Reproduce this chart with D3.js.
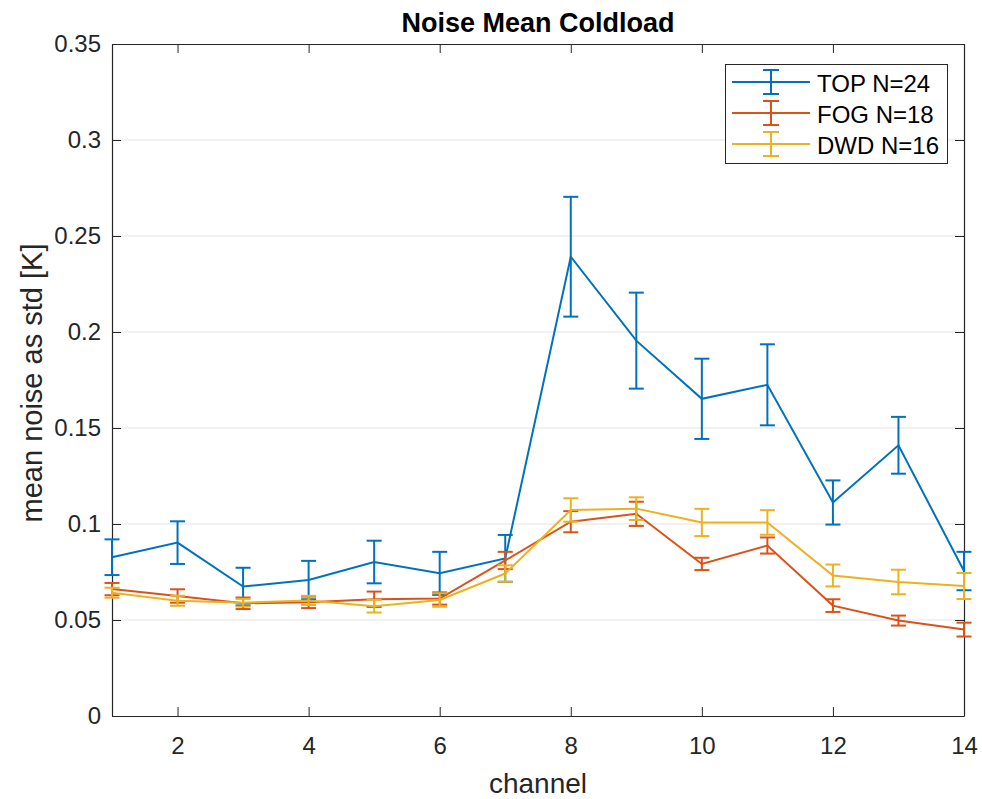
<!DOCTYPE html>
<html><head><meta charset="utf-8">
<script src="https://cdn.jsdelivr.net/npm/d3@7"></script>
<style>body{margin:0;background:#fff}svg{display:block}text{font-family:"Liberation Sans",Arial,sans-serif}</style>
</head><body><svg id="c" width="982" height="799"></svg>
<script>
const channels = [1,2,3,4,5,6,7,8,9,10,11,12,13,14];
const topMean = [0.0827,0.0903,0.0674,0.0708,0.0802,0.0743,0.0821,0.2392,0.1955,0.1652,0.1725,0.1112,0.1410,0.0755];
const topErr  = [0.0093,0.0111,0.0098,0.0100,0.0111,0.0112,0.0122,0.0312,0.0250,0.0209,0.0211,0.0115,0.0148,0.0100];
const fogMean = [0.0661,0.0625,0.0587,0.0592,0.0608,0.0612,0.0810,0.1012,0.1053,0.0792,0.0888,0.0575,0.0497,0.0450];
const fogErr  = [0.0032,0.0035,0.0030,0.0030,0.0040,0.0032,0.0045,0.0055,0.0063,0.0032,0.0042,0.0033,0.0026,0.0036];
const dwdMean = [0.0642,0.0600,0.0590,0.0602,0.0572,0.0604,0.0742,0.1073,0.1080,0.1008,0.1008,0.0732,0.0698,0.0677];
const dwdErr  = [0.0026,0.0026,0.0020,0.0024,0.0033,0.0035,0.0043,0.0061,0.0059,0.0071,0.0064,0.0057,0.0064,0.0068];
const seriesNames = ["TOP N=24","FOG N=18","DWD N=16"];
const xTicks = [2,4,6,8,10,12,14];
const yTicks = [0,0.05,0.1,0.15,0.2,0.25,0.3,0.35];
const colors = ["#0072BD","#D95319","#EDB120"];

const series = [
  {name:seriesNames[0], mean:topMean, err:topErr, color:colors[0]},
  {name:seriesNames[1], mean:fogMean, err:fogErr, color:colors[1]},
  {name:seriesNames[2], mean:dwdMean, err:dwdErr, color:colors[2]}
];

const L=112,R=964,T=44,B=716;
const svg=d3.select("#c");
const x=d3.scaleLinear().domain([1,14]).range([L,R]);
const y=d3.scaleLinear().domain([0,0.35]).range([B,T]);

// grid
svg.append("g").selectAll("line").data(yTicks.slice(1,-1)).join("line")
  .attr("x1",L).attr("x2",R).attr("y1",d=>y(d)).attr("y2",d=>y(d))
  .attr("stroke","#e3e3e3").attr("stroke-width",1);

const tickLen=9;
const axCol="#262626";
const xb=svg.append("g").attr("transform",`translate(0,${B})`)
  .call(d3.axisBottom(x).tickValues(xTicks).tickSizeInner(-tickLen).tickSizeOuter(0).tickPadding(21).tickFormat(d3.format("d")));
const xt=svg.append("g").attr("transform",`translate(0,${T})`)
  .call(d3.axisTop(x).tickValues(xTicks).tickSizeInner(-tickLen).tickSizeOuter(0).tickFormat(""));
const yl=svg.append("g").attr("transform",`translate(${L},0)`)
  .call(d3.axisLeft(y).tickValues(yTicks).tickSizeInner(-tickLen).tickSizeOuter(0).tickPadding(11).tickFormat(d=>d===0?"0":String(+d.toFixed(2))));
const yr=svg.append("g").attr("transform",`translate(${R},0)`)
  .call(d3.axisRight(y).tickValues(yTicks).tickSizeInner(-tickLen).tickSizeOuter(0).tickFormat(""));
[xb,xt,yl,yr].forEach(g=>{
  g.select(".domain").attr("stroke",axCol).attr("stroke-width",1.2);
  g.selectAll(".tick line").attr("stroke",axCol).attr("stroke-width",1);
  g.selectAll(".tick text").attr("fill",axCol).style("font-size","24px");
});

// series
const line=d3.line().x((d,i)=>x(channels[i])).y(d=>y(d));
const cap=7.5;
series.forEach(s=>{
  const g=svg.append("g");
  g.append("path").attr("d",line(s.mean)).attr("fill","none").attr("stroke",s.color).attr("stroke-width",2);
  const eb=g.selectAll("g.eb").data(channels).join("g");
  eb.append("line").attr("x1",d=>x(d)).attr("x2",d=>x(d))
    .attr("y1",(d,i)=>y(s.mean[i]-s.err[i])).attr("y2",(d,i)=>y(s.mean[i]+s.err[i]))
    .attr("stroke",s.color).attr("stroke-width",2);
  [1,-1].forEach(sg=>{
    eb.append("line").attr("x1",d=>x(d)-cap).attr("x2",d=>x(d)+cap)
      .attr("y1",(d,i)=>y(s.mean[i]+sg*s.err[i])).attr("y2",(d,i)=>y(s.mean[i]+sg*s.err[i]))
      .attr("stroke",s.color).attr("stroke-width",2);
  });
});

// title & labels
svg.append("text").attr("x",(L+R)/2).attr("y",32).attr("text-anchor","middle")
  .style("font-size","27px").style("font-weight","bold").attr("fill","#000").text("Noise Mean Coldload");
svg.append("text").attr("x",(L+R)/2).attr("y",793).attr("text-anchor","middle")
  .style("font-size","28px").attr("fill",axCol).text("channel");
svg.append("text").attr("transform",`translate(42,383) rotate(-90)`).attr("text-anchor","middle")
  .style("font-size","29px").attr("fill",axCol).text("mean noise as std [K]");

// legend
const lg=svg.append("g");
lg.append("rect").attr("x",725.5).attr("y",64.5).attr("width",222).attr("height",99)
  .attr("fill","#fff").attr("stroke",axCol).attr("stroke-width",1);
series.forEach((s,i)=>{
  const yy=82+i*31;
  lg.append("line").attr("x1",732).attr("x2",810).attr("y1",yy).attr("y2",yy).attr("stroke",s.color).attr("stroke-width",2);
  lg.append("line").attr("x1",771).attr("x2",771).attr("y1",yy-12).attr("y2",yy+12).attr("stroke",s.color).attr("stroke-width",2);
  [-12,12].forEach(o=>lg.append("line").attr("x1",763).attr("x2",779).attr("y1",yy+o).attr("y2",yy+o).attr("stroke",s.color).attr("stroke-width",2));
  lg.append("text").attr("x",817).attr("y",yy+10).style("font-size","24px").attr("fill","#000").text(s.name);
});
</script></body></html>
